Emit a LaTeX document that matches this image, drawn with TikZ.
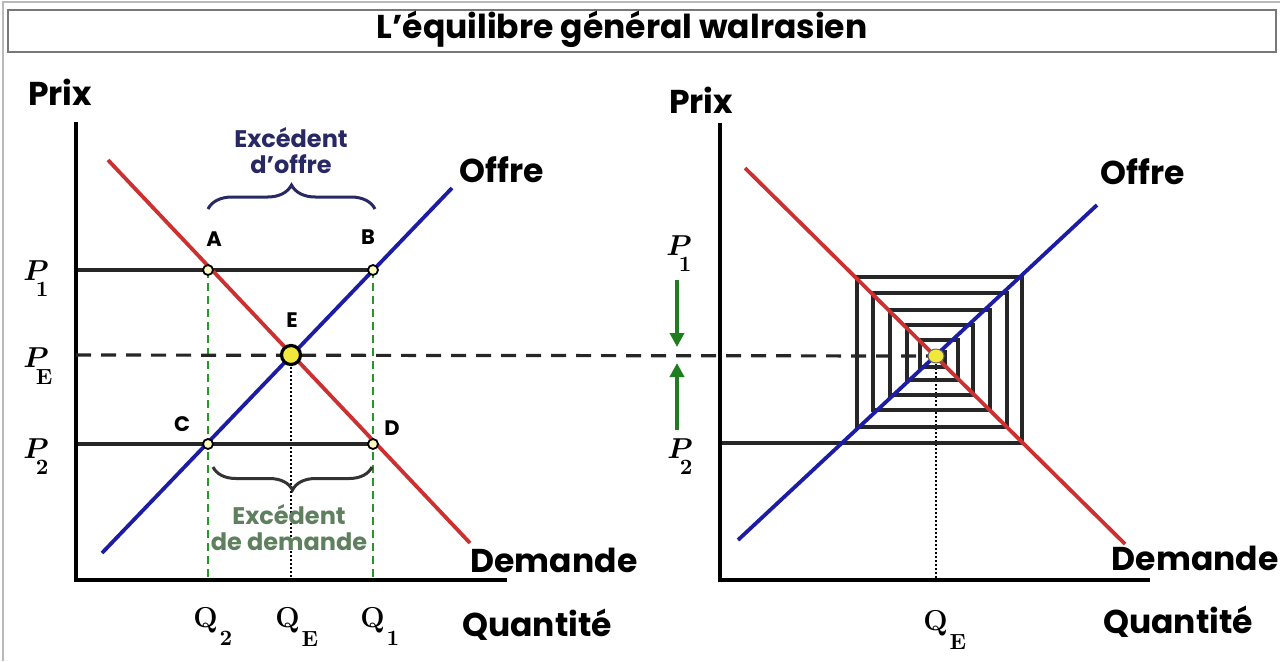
\documentclass[tikz,border=0pt]{standalone}
\usepackage[no-math]{fontspec}
\setmainfont{Poppins}
\usepackage{bm}
\usetikzlibrary{decorations.pathreplacing,arrows.meta,shapes.geometric}
\definecolor{redc}{RGB}{205,48,48}
\definecolor{bluec}{RGB}{28,28,165}
\definecolor{navyt}{RGB}{40,40,100}
\definecolor{greenl}{RGB}{40,150,40}
\definecolor{greent}{RGB}{95,128,95}
\definecolor{greena}{RGB}{30,125,30}
\definecolor{doty}{RGB}{242,232,60}
\definecolor{frameg}{RGB}{120,120,120}
\newcommand\Plab[1]{$\bm{P}$\hspace{-6.5pt}\raisebox{\dimexpr-\height-1pt\relax}{$\scriptstyle\mathbf{#1}$}}
\newcommand\Qlab[1]{$\mathbf{Q}$\hspace{1pt}\raisebox{\dimexpr-\height-2pt\relax}{$\scriptstyle\mathbf{#1}$}}
\begin{document}
\begin{tikzpicture}[x=0.5pt,y=-0.5pt,
  big/.style={font=\fontsize{16.5}{18}\selectfont\bfseries, inner sep=0pt},
  pt/.style={font=\fontsize{10.5}{12}\selectfont\bfseries, inner sep=0pt},
  mathlab/.style={font=\fontsize{15.5}{17}\selectfont, inner sep=0pt, anchor=base west},
  axis/.style={line width=1.7pt, black},
  demand/.style={line width=1.9pt, redc},
  supply/.style={line width=1.9pt, bluec},
  level/.style={line width=1.6pt, black!85},
  gdash/.style={line width=1.1pt, greenl, dash pattern=on 4pt off 2.5pt},
  pedash/.style={line width=1.6pt, black!85, dash pattern=on 7.5pt off 5pt},
  dotv/.style={line width=1pt, black, dash pattern=on 1pt off 1pt},
  smalldot/.style={circle, draw=black, line width=0.9pt, fill=yellow!25, minimum size=5pt, inner sep=0pt},
  bigdot/.style={circle, draw=black, line width=1.6pt, fill=doty, minimum size=9.5pt, inner sep=0pt},
  rdot/.style={ellipse, draw=black!60, line width=0.5pt, fill=doty, minimum width=8pt, minimum height=7pt, inner sep=0pt},
  garrow/.style={line width=2pt, greena, -{Triangle[length=7pt,width=7pt]}},
  ]
\useasboundingbox (0,0) rectangle (1280,661);
% frame
\draw[gray!55, line width=1pt] (3,661) -- (3,2) -- (1280,2);
\node[draw=frameg, line width=1.3pt, minimum width=634pt, minimum height=21pt, inner sep=0pt] (titlebox) at (642,31) {};
\node[font=\fontsize{16.5}{18}\selectfont\bfseries, inner sep=0pt] (title) at (622,29) {L’équilibre général walrasien};

% ===== left chart =====
\coordinate (LO) at (76,580);
\coordinate (LYT) at (76,122);
\coordinate (LXE) at (507,580);
\coordinate (A) at (208,270);
\coordinate (B) at (373,270);
\coordinate (C) at (208,444);
\coordinate (D) at (373,444);
\coordinate (E) at (291,355);
\coordinate (Ax) at (208,580);
\coordinate (Bx) at (373,580);
\coordinate (Ex) at (291,580);
\coordinate (P1a) at (76,270);
\coordinate (P2a) at (76,444);
\coordinate (PEa) at (76,355);

\draw[gdash] (A) -- (Ax);
\draw[gdash] (B) -- (Bx);
\draw[dotv] (E) -- (Ex);
\draw[level] (P1a) -- (B);
\draw[level] (P2a) -- (D);
\draw[axis] (LYT) -- (LO) -- (LXE);

\coordinate (Ld1) at (108,160);
\coordinate (Ld2) at (470,543);
\coordinate (Ls1) at (102,553);
\coordinate (Ls2) at (452,188);
\draw[demand] (Ld1) -- (Ld2);
\draw[supply] (Ls1) -- (Ls2);

% ===== right chart =====
\coordinate (RO) at (720,580);
\coordinate (RYT) at (720,123);
\coordinate (RXE) at (1150,580);
\coordinate (RE) at (936,356);
\coordinate (REx) at (936,580);
\coordinate (P2r) at (720,443);
\coordinate (Rd1) at (745,168);
\coordinate (Rd2) at (1125,544);
\coordinate (Rs1) at (738,540);
\coordinate (Rs2) at (1097,205);

\draw[dotv] (RE) -- (REx);
\draw[level] (P2r) -- (1022,443) -- (1022,277) -- (857,277) -- (857,427)
  -- (1007,427) -- (1007,293) -- (873,293) -- (873,410) -- (990,410)
  -- (990,310) -- (890,310) -- (890,395) -- (973,395) -- (973,325)
  -- (907,325) -- (907,380) -- (958,380) -- (958,340) -- (920,340)
  -- (920,367) -- (945,367) -- (945,350);
\draw[axis] (RYT) -- (RO) -- (RXE);
\draw[demand] (Rd1) -- (Rd2);
\draw[supply] (Rs1) -- (Rs2);

% equilibrium dashed line
\draw[pedash] (PEa) -- (RE);

% green arrows
\coordinate (ga1) at (677,280);
\coordinate (ga2) at (677,347);
\coordinate (ga3) at (677,430);
\coordinate (ga4) at (677,363);
\draw[garrow] (ga1) -- (ga2);
\draw[garrow] (ga3) -- (ga4);

% dots
\node[smalldot] (dA) at (A) {};
\node[smalldot] (dB) at (B) {};
\node[smalldot] (dC) at (C) {};
\node[smalldot] (dD) at (D) {};
\node[bigdot] (dE) at (E) {};
\node[rdot] (dRE) at (RE) {};

% braces
\draw[navyt, line width=1.5pt, decorate, decoration={brace, amplitude=12pt}] (208,209) -- (375,209);
\draw[black!80, line width=1.5pt, decorate, decoration={brace, amplitude=11.5pt}] (372,467) -- (213,467);

% point labels
\node[pt] (lA) at (214,239) {A};
\node[pt] (lB) at (368,237) {B};
\node[pt] (lE) at (292,320) {E};
\node[pt] (lC) at (182,424) {C};
\node[pt] (lD) at (392,428) {D};

% texts
\node[big] (prixL) at (60,92) {Prix};
\node[big] (prixR) at (701,100) {Prix};
\node[big] (offreL) at (502,170) {Offre};
\node[big] (offreR) at (1143,172) {Offre};
\node[big] (demL) at (554,560) {Demande};
\node[big, anchor=east] (demR) at (1279,558) {Demande};
\node[big] (qtyL) at (537,625) {Quantité};
\node[big] (qtyR) at (1178,622) {Quantité};

\node[font=\fontsize{12}{14}\selectfont\bfseries, text=navyt, align=center, inner sep=0pt] (exo) at (291,151) {Excédent\\[-1pt]d’offre};
\node[font=\fontsize{12}{14}\selectfont\bfseries, text=greent, align=center, inner sep=0pt] (exd) at (289,528) {Excédent\\[-1pt]de demande};

% axis value labels
\node[mathlab] (P1L) at (23,280) {\Plab{1}};
\node[mathlab] (PEL) at (23,367) {\Plab{E}};
\node[mathlab] (P2L) at (23,458) {\Plab{2}};
\node[mathlab] (P1R) at (666,255) {\Plab{1}};
\node[mathlab] (P2R) at (667,458) {\Plab{2}};
\node[mathlab] (Q2L) at (193,627) {\Qlab{2}};
\node[mathlab] (QEL) at (275,627) {\Qlab{E}};
\node[mathlab] (Q1L) at (360,627) {\Qlab{1}};
\node[mathlab] (QER) at (923,630) {\Qlab{E}};
\end{tikzpicture}
\end{document}
